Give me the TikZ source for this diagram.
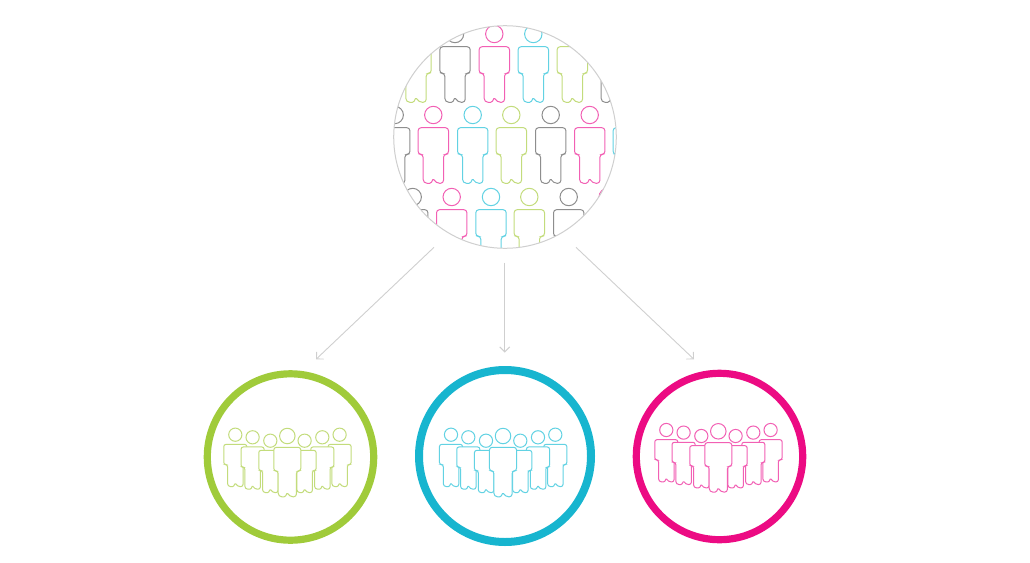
\documentclass[tikz,border=0pt]{standalone}
\usetikzlibrary{arrows.meta}
\definecolor{pgreen}{HTML}{C3DC7C}
\definecolor{pcyan}{HTML}{62D2E3}
\definecolor{pmag}{HTML}{F260B4}
\definecolor{pgray}{HTML}{8E8E8E}
\definecolor{rgreen}{HTML}{A0CB3A}
\definecolor{rcyan}{HTML}{17B5CF}
\definecolor{rmag}{HTML}{EC0B83}
\definecolor{conn}{HTML}{CFCFCF}
\tikzset{
  ring/.style={circle,draw=#1,line width=7.2pt,fill=white,inner sep=0pt,outer sep=0pt,minimum size=166.4pt},
  link/.style={draw=conn,line width=0.9pt,-{Straight Barb[length=5pt,width=10pt]}}
}
% x, y, scale, colour
\newcommand{\person}[4]{%
  \begin{scope}[shift={(#1,#2)},scale=#3]
    \draw[#4,line width=1pt,fill=white] (0,0) circle (8.7);
    \draw[#4,line width=1pt,fill=white,rounded corners=#3*3pt]
      (-15.2,12.7) -- (15.2,12.7) -- (15.2,39.3) -- (10.2,39.3) -- (10.2,68.3)
      [rounded corners=#3*4pt] -- (2.4,68.3) [rounded corners=#3*1.2pt] -- (0,63.6)
      -- (-2.4,68.3) [rounded corners=#3*4pt] -- (-10.2,68.3) [rounded corners=#3*3pt] -- (-10.2,39.3)
      -- (-15.2,39.3) -- cycle;
  \end{scope}}
% dx from blue group, dy, colour
\newcommand{\crowd}[3]{%
  \person{451+#1}{434.7+#2}{0.76}{#3}
  \person{555.3+#1}{434.7+#2}{0.76}{#3}
  \person{468.3+#1}{437.3+#2}{0.76}{#3}
  \person{538+#1}{437.3+#2}{0.76}{#3}
  \person{486+#1}{440.7+#2}{0.76}{#3}
  \person{520.3+#1}{440.7+#2}{0.76}{#3}
  \person{503+#1}{436+#2}{0.89}{#3}}
\begin{document}
\begin{tikzpicture}[x=1pt,y=-1pt]
\useasboundingbox (0,0) rectangle (1030,562);
\begin{scope}
  \clip (505,137) circle (111.3);
  % top row
  \person{416}{34}{1}{pgreen}
  \person{455}{34}{1}{pgray}
  \person{494.3}{34}{1}{pmag}
  \person{533.3}{34}{1}{pcyan}
  \person{572.3}{34}{1}{pgreen}
  \person{611.3}{34}{1}{pgray}
  % middle row
  \person{394.7}{115}{1}{pgray}
  \person{433.3}{115}{1}{pmag}
  \person{472.7}{115}{1}{pcyan}
  \person{511.3}{115}{1}{pgreen}
  \person{550.7}{115}{1}{pgray}
  \person{589.7}{115}{1}{pmag}
  \person{628.3}{115}{1}{pcyan}
  % bottom row
  \person{412.7}{197}{1}{pgray}
  \person{451.7}{197}{1}{pmag}
  \person{491}{197}{1}{pcyan}
  \person{529.3}{197}{1}{pgreen}
  \person{568.7}{197}{1}{pgray}
  \person{607.7}{197}{1}{pmag}
\end{scope}
\node[circle,draw=conn,line width=1pt,inner sep=0pt,outer sep=0pt,minimum size=222.6pt] (source) at (505,137) {};
\node[ring=rgreen] (greenring) at (290.5,457) {};
\node[ring=rcyan,line width=8pt,minimum size=172pt] (cyanring) at (505,456) {};
\node[ring=rmag] (magring) at (719.5,456.5) {};
\crowd{-215.7}{0}{pgreen}
\crowd{0}{0}{pcyan}
\crowd{215.3}{-4.7}{pmag}
\coordinate (ls) at (434,247.3);
\coordinate (le) at (316,359.3);
\coordinate (ms) at (504.7,262.7);
\coordinate (me) at (504.7,352.7);
\coordinate (rs) at (576,247.3);
\coordinate (re) at (694,359.3);
\draw[link] (ls) -- (le);
\draw[link,line width=1.1pt] (ms) -- (me);
\draw[link] (rs) -- (re);
\end{tikzpicture}
\end{document}
